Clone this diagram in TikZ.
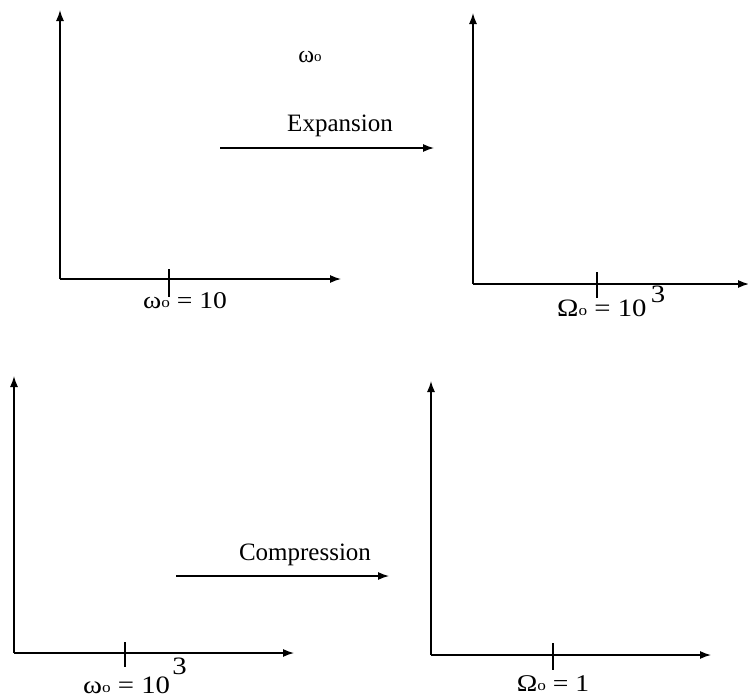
\documentclass[tikz,border=0pt]{standalone}
\usepackage{fontspec}
\setmainfont{Liberation Serif}
\usetikzlibrary{arrows.meta}
\newcommand{\wo}{ω\raisebox{0.3pt}{\fontsize{15}{15}\selectfont o}}
\newcommand{\Wo}{Ω\raisebox{0.3pt}{\fontsize{15}{15}\selectfont o}}
\newcommand{\wide}[1]{\scalebox{1.15}[1]{#1}}
\tikzset{
  axis/.style={line width=1.3pt,-{Latex[length=11pt,width=8pt]}},
  tickmark/.style={line width=1.3pt},
  lbl/.style={font=\fontsize{24}{28}\selectfont,inner sep=0pt,anchor=base},
  biglbl/.style={font=\fontsize{25}{29}\selectfont,inner sep=0pt,anchor=base west},
  mid/.style={font=\fontsize{25}{29}\selectfont,inner sep=0pt,anchor=base},
}
\begin{document}
\begin{tikzpicture}[x=1pt,y=-1pt]
\useasboundingbox (0,0) rectangle (748,697);
% panel 1
\coordinate (o1) at (60,279);
\coordinate (y1) at (60,10);
\coordinate (x1) at (341,279);
\coordinate (t1a) at (169,269);
\coordinate (t1b) at (169,297);
\draw[axis] (o1) -- (y1);
\draw[axis] (o1) -- (x1);
\draw[tickmark] (t1a) -- (t1b);
\node[lbl] (l1) at (185,308) {\wide{\wo\ = 10}};
% panel 2
\coordinate (o2) at (473,284);
\coordinate (y2) at (473,13);
\coordinate (x2) at (749,284);
\coordinate (t2a) at (597,272);
\coordinate (t2b) at (597,298);
\draw[axis] (o2) -- (y2);
\draw[axis] (o2) -- (x2);
\draw[tickmark] (t2a) -- (t2b);
\node[biglbl] (l2) at (557,316) {\wide{\Wo\ = 10}};
\node[biglbl] (s2) at (l2.base east) [xshift=4pt,yshift=14pt] {\wide{3}};
% middle top
\node[lbl] (w0) at (310,62) {\wo};
\node[mid] (exp) at (340,131) {Expansion};
\coordinate (e1) at (220,148);
\coordinate (e2) at (434,148);
\draw[axis] (e1) -- (e2);
% panel 3
\coordinate (o3) at (14,653);
\coordinate (y3) at (14,376);
\coordinate (x3) at (294,653);
\coordinate (t3a) at (125,642);
\coordinate (t3b) at (125,667);
\draw[axis] (o3) -- (y3);
\draw[axis] (o3) -- (x3);
\draw[tickmark] (t3a) -- (t3b);
\node[biglbl] (l3) at (83,693) {\wide{\wo\ = 10}};
\node[biglbl] (s3) at (l3.base east) [xshift=2pt,yshift=19pt] {\wide{3}};
% middle bottom
\node[mid] (comp) at (305,560) {Compression};
\coordinate (c1) at (176,576);
\coordinate (c2) at (389,576);
\draw[axis] (c1) -- (c2);
% panel 4
\coordinate (o4) at (431,655);
\coordinate (y4) at (431,381);
\coordinate (x4) at (711,655);
\coordinate (t4a) at (553,643);
\coordinate (t4b) at (553,670);
\draw[axis] (o4) -- (y4);
\draw[axis] (o4) -- (x4);
\draw[tickmark] (t4a) -- (t4b);
\node[lbl] (l4) at (553,691) {\wide{\Wo\ = 1}};
\end{tikzpicture}
\end{document}
